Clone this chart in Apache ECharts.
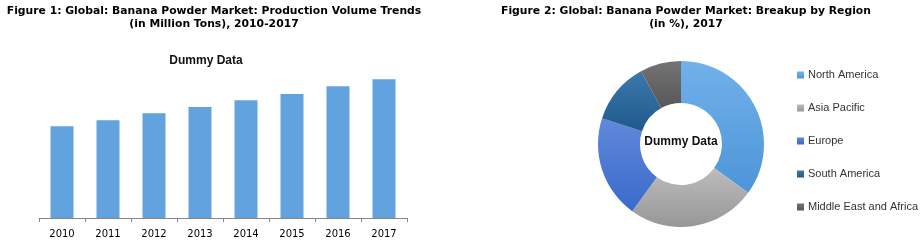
<!DOCTYPE html>
<html>
<head>
<meta charset="utf-8">
<script src="https://cdn.jsdelivr.net/npm/echarts@6/dist/echarts.min.js"></script>
<style>
html,body{margin:0;padding:0;background:#fff;}
#c{width:923px;height:243px;}
</style>
</head>
<body>
<div id="c"></div>
<script>
var years = ['2010','2011','2012','2013','2014','2015','2016','2017'];
var volumes = [3.31, 3.52, 3.78, 4.0, 4.24, 4.47, 4.75, 5.0];
var regions = ['North America','Asia Pacific','Europe','South America','Middle East and Africa'];
var shares = [35, 25, 20, 12, 8];
var title1 = 'Figure 1: Global: Banana Powder Market: Production Volume Trends\n(in Million Tons), 2010-2017';
var title2 = 'Figure 2: Global: Banana Powder Market: Breakup by Region\n(in %), 2017';
var dummy = 'Dummy Data';

var sliceColors = [
  ['#72b1ea','#4c95d8'],
  ['#bcbcbc','#979797'],
  ['#6189da','#3a6acb'],
  ['#3d78aa','#1e5a8d'],
  ['#737373','#575757']
];
function grad(c){
  return new echarts.graphic.LinearGradient(0,0,0,1,[{offset:0,color:c[0]},{offset:1,color:c[1]}]);
}

var chart = echarts.init(document.getElementById('c'), null, {renderer:'canvas'});
var titleStyle = {fontFamily:'DejaVu Sans', fontWeight:'bold', fontSize:10.8, color:'#000', lineHeight:13};
var dummyStyle = {fontFamily:'Liberation Sans', fontWeight:'bold', fontSize:12, color:'#111', lineHeight:13};
chart.setOption({
  animation:false,
  title:[
    {text:title1, left:214, top:4.5, padding:0, textAlign:'center', textStyle:titleStyle},
    {text:title2, left:686, top:4.5, padding:0, textAlign:'center', textStyle:titleStyle},
    {text:dummy, left:206, top:54.5, padding:0, textAlign:'center', textStyle:dummyStyle},
    {text:dummy, left:681, top:135.5, padding:0, textAlign:'center', textStyle:dummyStyle}
  ],
  legend:{
    orient:'vertical', left:797, top:69.5, padding:0,
    itemWidth:7, itemHeight:7, itemGap:22,
    icon:'rect',
    data:regions,
    textStyle:{fontFamily:'Liberation Sans', fontSize:11, color:'#333', padding:[0,0,0,-1]}
  },
  grid:{left:39, width:368, top:44.6, bottom:25, containLabel:false},
  xAxis:{
    type:'category', data:years,
    axisLine:{lineStyle:{color:'#868686', width:1}},
    axisTick:{show:true, length:4, lineStyle:{color:'#868686'}},
    axisLabel:{color:'#000', fontFamily:'DejaVu Sans', fontSize:10, margin:11}
  },
  yAxis:{type:'value', min:0, max:6.25, show:false, splitLine:{show:false}},
  series:[
    {type:'bar', data:volumes, barWidth:23, itemStyle:{color:'#62a3df'}, silent:true},
    {type:'pie', center:[681,144], radius:[41,83], startAngle:90, clockwise:true,
     label:{show:false}, labelLine:{show:false}, silent:true,
     data:regions.map(function(r,i){return {name:r, value:shares[i], itemStyle:{color:grad(sliceColors[i])}};})
    }
  ]
});
</script>
</body>
</html>
